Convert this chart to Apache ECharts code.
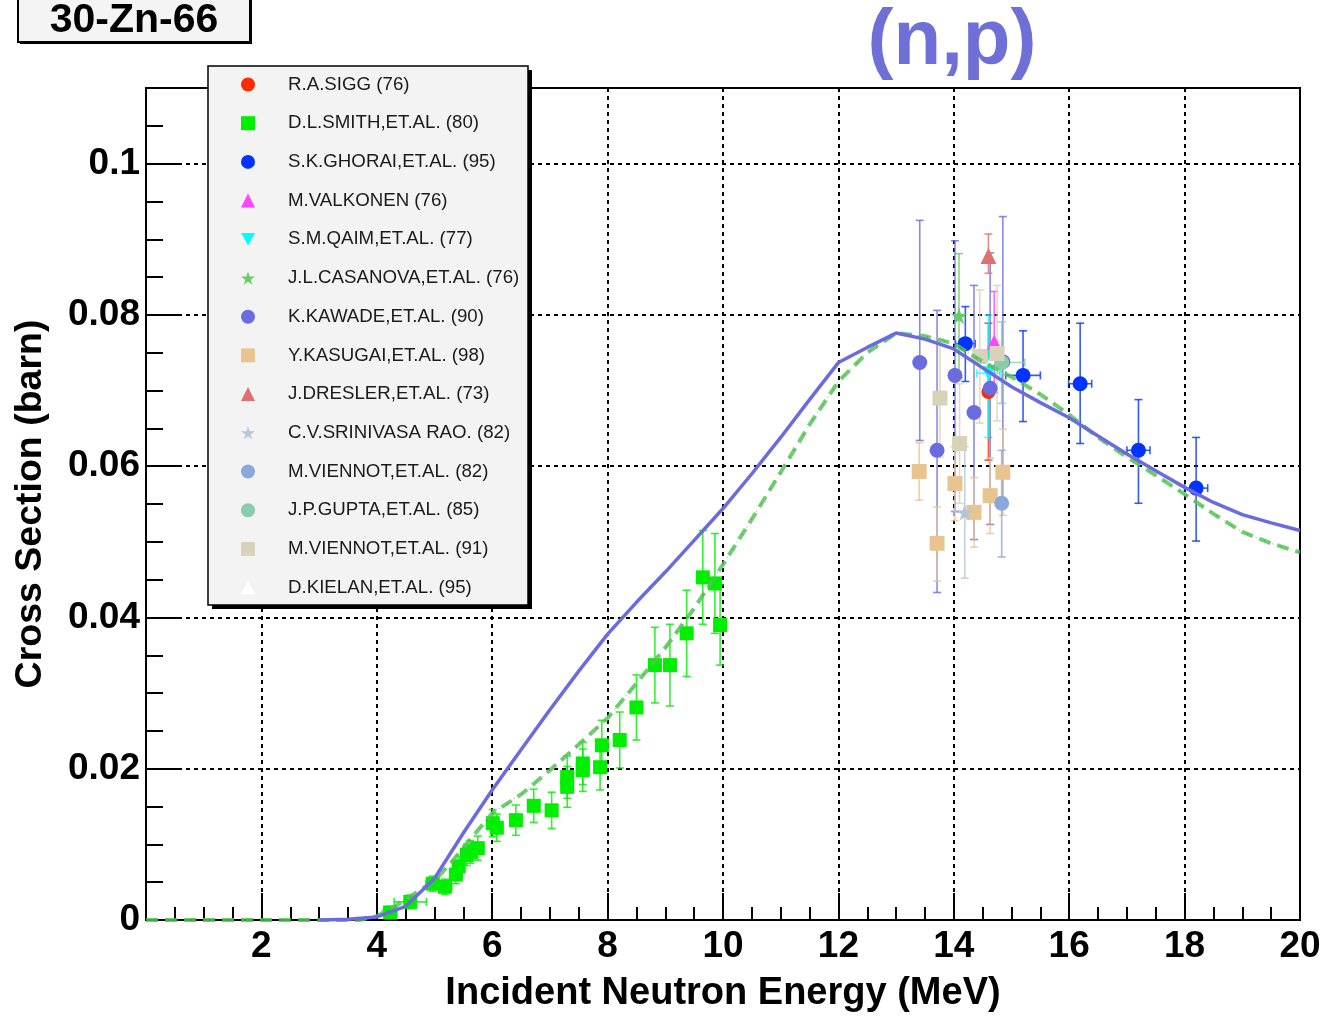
<!DOCTYPE html>
<html><head><meta charset="utf-8">
<script src="https://cdn.jsdelivr.net/npm/echarts@6/dist/echarts.min.js"></script>
<style>html,body{margin:0;padding:0;background:#fff}#c{width:1327px;height:1025px}</style>
</head><body><div id="c"></div>
<script>
// ---- data: rows are [energy MeV, cross section barn, errLow, errHigh, energyErr] ----
const sigg = [[14.60, 0.0698, 0.0090, 0.0091, 0]];
const smith = [
  [4.23,0.0010,0.0008,0.0008,0.12],[4.58,0.0024,0.0009,0.0009,0.28],[4.97,0.0048,0.0010,0.0010,0.12],
  [5.18,0.0044,0.0010,0.0010,0.12],[5.37,0.0060,0.0012,0.0012,0.10],[5.42,0.0071,0.0013,0.0013,0.10],
  [5.56,0.0086,0.0014,0.0014,0.10],[5.62,0.0090,0.0015,0.0015,0.10],[5.75,0.0095,0.0016,0.0016,0.10],
  [6.01,0.0128,0.0018,0.0018,0.10],[6.08,0.0122,0.0018,0.0018,0.10],[6.41,0.0132,0.0020,0.0020,0.10],
  [6.72,0.0151,0.0022,0.0022,0.10],[7.03,0.0145,0.0024,0.0024,0.10],[7.30,0.0189,0.0028,0.0028,0.10],
  [7.30,0.0176,0.0027,0.0027,0.10],[7.57,0.0207,0.0028,0.0028,0.10],[7.57,0.0198,0.0028,0.0028,0.10],
  [7.87,0.0202,0.0030,0.0030,0.10],[7.90,0.0231,0.0033,0.0033,0.10],[8.21,0.0238,0.0037,0.0037,0.10],
  [8.50,0.0281,0.0043,0.0043,0.10],[8.82,0.0337,0.0050,0.0050,0.10],[9.08,0.0337,0.0054,0.0054,0.10],
  [9.37,0.0379,0.0057,0.0057,0.10],[9.65,0.0453,0.0062,0.0062,0.10],[9.86,0.0445,0.0066,0.0066,0.10],
  [9.95,0.0390,0.0053,0.0053,0.10]
];
const ghorai = [[14.20,0.0762,0.0050,0.0049,0.17],[15.20,0.0720,0.0061,0.0059,0.30],[16.19,0.0709,0.0079,0.0080,0.20],
  [17.20,0.0621,0.0070,0.0067,0.20],[18.20,0.0571,0.0070,0.0067,0.20]];
const valkonen = [[14.70,0.0764,0.0067,0.0067,0]];
const qaim = [[14.60,0.0723,0.0085,0.0077,0.20]];
const casanova = [[14.09,0.0799,0.0082,0.0082,0]];
const kawade = [[13.41,0.0737,0.0103,0.0188,0],[13.71,0.0621,0.0188,0.0185,0],[14.02,0.0720,0.0180,0.0178,0],
  [14.35,0.0671,0.0168,0.0168,0],[14.63,0.0703,0.0180,0.0179,0],[14.85,0.0738,0.0190,0.0192,0]];
const kasugai = [[13.40,0.0593,0.0038,0.0038,0],[13.71,0.0498,0.0050,0.0048,0],[14.02,0.0577,0.0049,0.0049,0],
  [14.35,0.0539,0.0046,0.0046,0],[14.63,0.0561,0.0050,0.0050,0],[14.85,0.0592,0.0057,0.0057,0]];
const dresler = [[14.60,0.0878,0.0023,0.0029,0]];
const srinivasa = [[14.19,0.0539,0.0087,0.0087,0.19]];
const viennot82 = [[14.83,0.0551,0.0071,0.0070,0]];
const gupta = [[14.83,0.0737,0.0054,0.0054,0.40]];
const viennot91 = [[13.76,0.0690,0.0078,0.0078,0],[14.10,0.0630,0.0079,0.0079,0],[14.45,0.0745,0.0088,0.0088,0],[14.75,0.0749,0.0089,0.0090,0]];
const kielan = [[14.70,0.0745,0.0040,0.0040,0]];

// evaluated curves [energy, cross section]
const blueCurve = [[3,0],[3.5,0.0001],[4,0.0004],[4.5,0.0018],[5,0.0055],[5.5,0.0115],[6,0.0172],
  [6.5,0.0225],[7,0.0278],[7.5,0.0329],[8,0.0378],[8.5,0.042],[9,0.046],[9.5,0.0502],[10,0.0544],[10.5,0.059],
  [11,0.0638],[11.5,0.0688],[12,0.0737],[12.5,0.0757],[13,0.0776],[13.5,0.0768],[14,0.0755],[14.5,0.073],[15,0.0705],
  [15.5,0.0684],[16,0.0664],[16.5,0.064],[17,0.0616],[17.5,0.0594],[18,0.0572],[18.5,0.0552],[19,0.0536],[19.5,0.0525],[20,0.0515]];
const greenCurve = [[0,0],[1,0],[2,0],[3,0],[3.7,0],[4,0.0005],[4.3,0.0017],[4.6,0.0032],[5,0.0052],[5.3,0.0077],
  [5.6,0.0105],[6,0.0141],[6.5,0.0166],[7,0.0198],[7.5,0.0232],[8,0.0267],[8.5,0.0313],[9,0.036],[9.5,0.0412],
  [10,0.047],[10.5,0.053],[11,0.0592],[11.5,0.0655],[12,0.0712],[12.5,0.075],[13,0.0776],[13.5,0.0772],[14,0.0762],
  [14.5,0.0738],[15,0.0718],[15.5,0.0695],[16,0.0668],[16.5,0.0638],[17,0.0612],[17.5,0.0588],[18,0.0563],
  [18.5,0.0537],[19,0.0513],[19.5,0.0498],[20,0.0486]];

const xMin = 0, xMax = 20, xStep = 2;
const yMin = 0, yMax = 0.11, yStep = 0.02, yMinorStep = 0.005;

const FONT = '"Liberation Sans", Arial, Helvetica, sans-serif';
const STAR = 'path://M50,0 L61,35 L98,35 L68,57 L79,91 L50,70 L21,91 L32,57 L2,35 L39,35 Z';
const DOWN = 'path://M0,0 L10,0 L5,9 Z';

const sets = [
  {name:'D.KIELAN,ET.AL. (95)', data:kielan, color:'#ffffff', symbol:'triangle', size:15},
  {name:'R.A.SIGG (76)', data:sigg, color:'#ff2a00', symbol:'circle', size:14},
  {name:'D.L.SMITH,ET.AL. (80)', data:smith, color:'#00ee00', symbol:'rect', size:14},
  {name:'S.K.GHORAI,ET.AL. (95)', data:ghorai, color:'#0033ff', symbol:'circle', size:15},
  {name:'M.VALKONEN (76)', data:valkonen, color:'#ff44ff', symbol:'triangle', size:15},
  {name:'S.M.QAIM,ET.AL. (77)', data:qaim, color:'#00ffff', symbol:DOWN, size:14},
  {name:'J.L.CASANOVA,ET.AL. (76)', data:casanova, color:'#66cc66', symbol:STAR, size:17},
  {name:'K.KAWADE,ET.AL. (90)', data:kawade, color:'#6b6be0', symbol:'circle', size:15},
  {name:'Y.KASUGAI,ET.AL. (98)', data:kasugai, color:'#e8c490', symbol:'rect', size:15},
  {name:'J.DRESLER,ET.AL. (73)', data:dresler, color:'#e07070', symbol:'triangle', size:16},
  {name:'C.V.SRINIVASA RAO. (82)', data:srinivasa, color:'#b4c6d8', symbol:STAR, size:17},
  {name:'M.VIENNOT,ET.AL. (82)', data:viennot82, color:'#8aa8dc', symbol:'circle', size:15},
  {name:'J.P.GUPTA,ET.AL. (85)', data:gupta, color:'#88ccaa', symbol:'circle', size:15},
  {name:'M.VIENNOT,ET.AL. (91)', data:viennot91, color:'#d8d2b8', symbol:'rect', size:15}
];
const legendOrder = ['R.A.SIGG (76)','D.L.SMITH,ET.AL. (80)','S.K.GHORAI,ET.AL. (95)','M.VALKONEN (76)',
  'S.M.QAIM,ET.AL. (77)','J.L.CASANOVA,ET.AL. (76)','K.KAWADE,ET.AL. (90)','Y.KASUGAI,ET.AL. (98)',
  'J.DRESLER,ET.AL. (73)','C.V.SRINIVASA RAO. (82)','M.VIENNOT,ET.AL. (82)','J.P.GUPTA,ET.AL. (85)',
  'M.VIENNOT,ET.AL. (91)','D.KIELAN,ET.AL. (95)'];

function errRender(color){
  return function(params, api){
    const x = api.value(0), y = api.value(1), dl = api.value(2), dh = api.value(3), dx = api.value(4);
    const lo = api.coord([x, y - dl]), hi = api.coord([x, y + dh]);
    const st = {stroke: color, lineWidth: 1.6, opacity: 0.8};
    const cap = 4;
    const ch = [
      {type:'line', shape:{x1:lo[0], y1:lo[1], x2:hi[0], y2:hi[1]}, style:st},
      {type:'line', shape:{x1:lo[0]-cap, y1:lo[1], x2:lo[0]+cap, y2:lo[1]}, style:st},
      {type:'line', shape:{x1:hi[0]-cap, y1:hi[1], x2:hi[0]+cap, y2:hi[1]}, style:st}
    ];
    if (dx > 0) {
      const l = api.coord([x - dx, y]), r = api.coord([x + dx, y]);
      ch.push({type:'line', shape:{x1:l[0], y1:l[1], x2:r[0], y2:r[1]}, style:st});
      ch.push({type:'line', shape:{x1:l[0], y1:l[1]-cap, x2:l[0], y2:l[1]+cap}, style:st});
      ch.push({type:'line', shape:{x1:r[0], y1:r[1]-cap, x2:r[0], y2:r[1]+cap}, style:st});
    }
    return {type:'group', children: ch};
  };
}

const series = [];
sets.forEach((s, i) => {
  series.push({
    name: s.name + ' err', type:'custom', renderItem: errRender(s.color === '#ffffff' ? 'rgba(255,255,255,0)' : s.color),
    data: s.data, encode:{x:0, y:1}, z: 2 + i*0.01, silent:true, clip:true
  });
});
sets.forEach((s, i) => {
  series.push({
    name: s.name, type:'scatter', data: s.data, encode:{x:0, y:1},
    symbol: s.symbol, symbolSize: s.size, itemStyle:{color: s.color, opacity:1},
    z: 3 + i*0.01, silent:true
  });
});
series.push({name:'greenCurve', type:'line', data: greenCurve, showSymbol:false, z:5, silent:true, clip:false,
  lineStyle:{color:'#55c455', width:4, type:[12,7], opacity:0.85}});
series.push({name:'greenDots', type:'line', data: greenCurve, showSymbol:false, z:6, silent:true, clip:false,
  lineStyle:{color:'#333', width:1, type:[1,8], opacity:0.45}});
series.push({name:'blueCurve', type:'line', data: blueCurve, showSymbol:false, z:7, silent:true, clip:false,
  lineStyle:{color:'#6b6be0', width:3.5}});

const chart = echarts.init(document.getElementById('c'), null, {renderer:'canvas'});
chart.setOption({
  animation:false,
  backgroundColor:'#ffffff',
  textStyle:{fontFamily: FONT},
  grid:{left:146, right:27, top:88, bottom:105, show:true, borderColor:'#000', borderWidth:2, backgroundColor:'transparent'},
  xAxis:{
    type:'value', min:xMin, max:xMax, interval:xStep,
    name:'Incident Neutron Energy (MeV)', nameLocation:'middle', nameGap:55,
    nameTextStyle:{fontFamily:FONT, fontSize:38, fontWeight:'bold', color:'#000'},
    axisLine:{show:true, lineStyle:{color:'#000', width:2}},
    axisTick:{show:true, inside:true, length:27, lineStyle:{color:'#000', width:2}},
    minorTick:{show:true, splitNumber:4, length:13, lineStyle:{color:'#000', width:2}},
    axisLabel:{fontFamily:FONT, fontSize:37, fontWeight:'bold', color:'#000', margin:8,
      formatter: v => v === 0 ? '' : String(v)},
    splitLine:{show:true, lineStyle:{color:'#000', width:2, type:[4,4]}}
  },
  yAxis:[{
    type:'value', min:yMin, max:yMax, interval:yStep,
    name:'Cross Section (barn)', nameLocation:'middle', nameGap:96,
    nameTextStyle:{fontFamily:FONT, fontSize:37.5, fontWeight:'bold', color:'#000'},
    axisLine:{show:true, lineStyle:{color:'#000', width:2}},
    axisTick:{show:true, inside:true, length:34, lineStyle:{color:'#000', width:2}},
    axisLabel:{fontFamily:FONT, fontSize:37, fontWeight:'bold', color:'#000', margin:6, showMaxLabel:false,
      formatter: v => v === 0 ? '0' : String(Math.round(v*100)/100)},
    splitLine:{show:true, lineStyle:{color:'#000', width:2, type:[4,4]}}
  },{
    type:'value', min:yMin, max:yMax, interval:yMinorStep, position:'left',
    axisLine:{show:false}, axisLabel:{show:false}, splitLine:{show:false},
    axisTick:{show:true, inside:true, length:17, lineStyle:{color:'#000', width:2}}
  }],
  legend:{
    data: legendOrder, orient:'vertical', left:241, top:75, padding:0,
    itemWidth:14, itemHeight:14, itemGap:19.7, z:20, selectedMode:false,
    textStyle:{fontFamily:FONT, fontSize:18.7, color:'#1a1a1a', padding:[0,0,0,28]}
  },
  graphic:[
    {type:'rect', shape:{x:212, y:70, width:320, height:539}, style:{fill:'#000'}, z:10, silent:true},
    {type:'rect', shape:{x:208, y:66, width:320, height:539}, style:{fill:'#f3f3f3', stroke:'#000', lineWidth:1.5}, z:11, silent:true},
    {type:'rect', shape:{x:20, y:-8, width:232, height:52}, style:{fill:'#000'}, z:10, silent:true},
    {type:'rect', shape:{x:18, y:-10, width:232, height:52}, style:{fill:'#f4f4f4', stroke:'#000', lineWidth:2}, z:11, silent:true},
    {type:'text', x:134, y:21, z:12, silent:true, style:{text:'30-Zn-66', fill:'#000', font:'bold 41px ' + FONT, textAlign:'center', textVerticalAlign:'middle'}},
    {type:'text', x:952, y:42, z:12, silent:true, style:{text:'(n,p)', fill:'#6f6fd8', font:'bold 78px ' + FONT, textAlign:'center', textVerticalAlign:'middle'}}
  ],
  series: series
});
</script>
</body></html>
